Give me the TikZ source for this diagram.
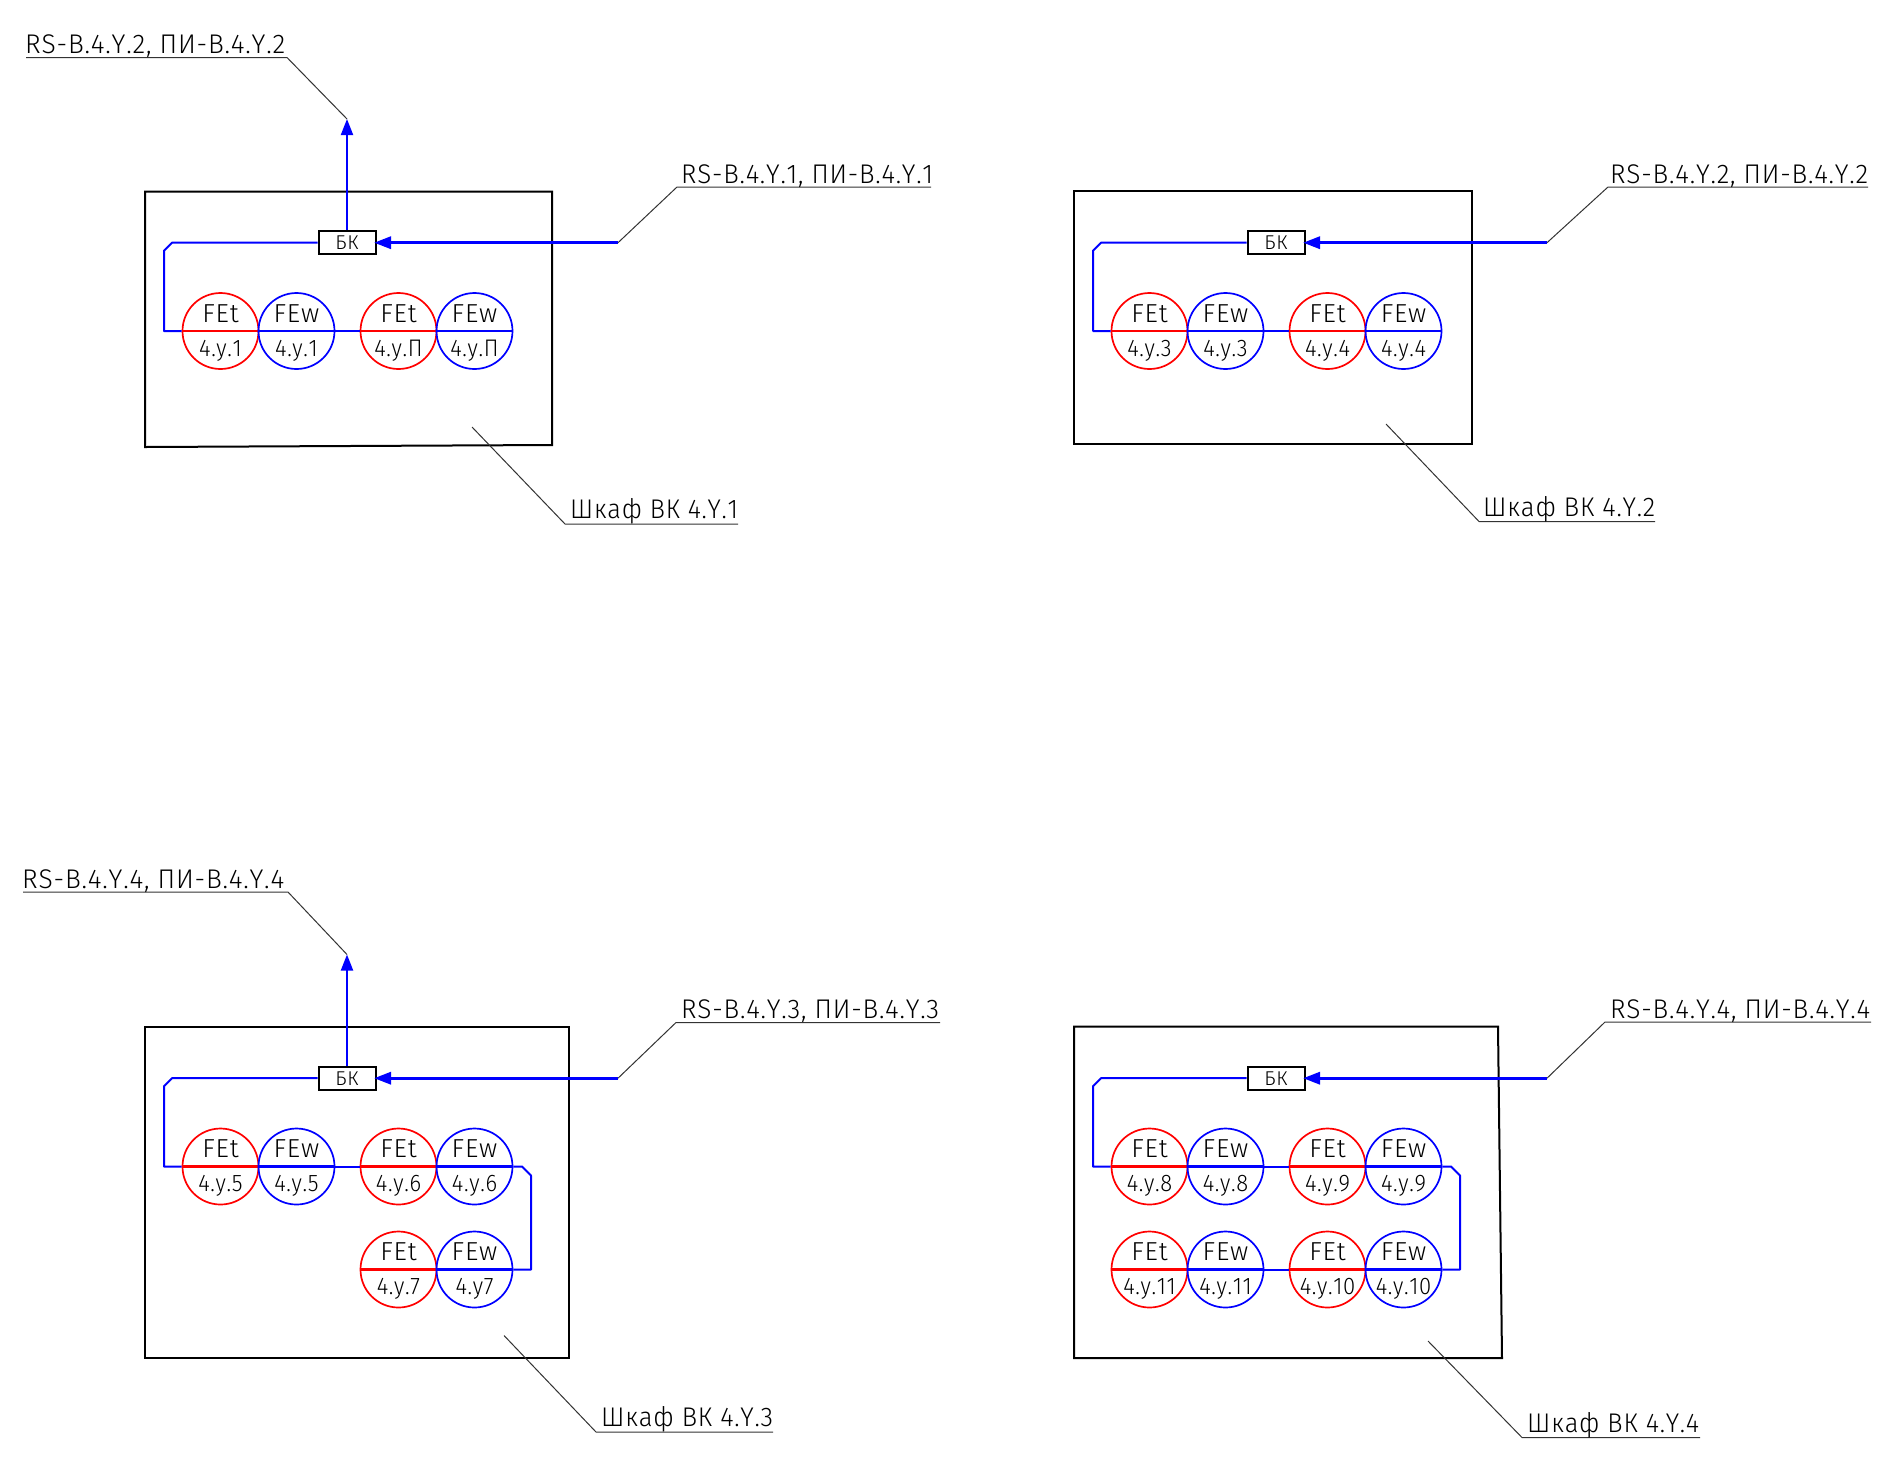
\documentclass[tikz,border=0pt]{standalone}
\usepackage{fontspec}
\usepackage{graphicx}
\setmainfont[Kerning=Off,LetterSpace=3]{Fira Sans Light}
\usetikzlibrary{arrows.meta}
\definecolor{cadred}{RGB}{255,0,0}
\definecolor{cadblue}{RGB}{0,0,255}
\newcommand\fitw[2]{\resizebox{#1pt}{\height}{#2}}
\tikzset{
  frame/.style={draw=black,line width=2pt,line join=miter},
  meter/.style={circle,minimum size=76pt,inner sep=0pt,line width=1.7pt,fill=none},
  midline/.style={line width=2.2pt},
  bus/.style={draw=cadblue,line width=2pt,line join=round},
  feed/.style={draw=cadblue,line width=3.2pt,shorten >=-2.5pt,-{Triangle[length=17pt,width=12pt]}},
  uparrow/.style={draw=cadblue,line width=2pt,-{Triangle[length=16pt,width=12pt]}},
  bk/.style={draw=black,line width=2pt,fill=white,minimum width=57pt,minimum height=23pt,inner sep=0pt,font=\fontsize{20}{20}\selectfont},
  leader/.style={draw=black!80,line width=1pt},
  tag/.style={inner sep=0pt,anchor=base west,font=\fontsize{27}{27}\selectfont},
  mtop/.style={inner sep=0pt,font=\fontsize{26}{26}\selectfont},
  mbot/.style={inner sep=0pt,font=\fontsize{24}{24}\selectfont},
}
% name, x, y, colour, top text, bottom text
\newcommand\meterpt[6]{%
  \node[meter,draw=#4] (#1) at (#2,#3) {};
  \draw[#4,midline] (#1.west) -- (#1.east);
  \node[mtop,anchor=base] (#1top) at (#2,#3-9) {\resizebox{!}{\height}{#5}};
  \node[mbot,anchor=base] (#1bot) at (#2,#3+25) {\scalebox{0.92}[1]{#6}};
}
% prefix, x of red meter, y, label
\newcommand\pairpt[4]{%
  \meterpt{#1t}{#2}{#3}{cadred}{FEt}{#4}
  \meterpt{#1w}{#2+76}{#3}{cadblue}{FEw}{#4}
}
% prefix, label a, label b: the common top row and feed
\newcommand\toprow[3]{%
  \node[bk] (#1bk) at (347,242.7) {БК};
  \pairpt{#1a}{220.5}{331}{#2}
  \pairpt{#1b}{398.5}{331}{#3}
  \draw[bus] (#1bk.west) -- (172,242.7) -- (164,250.7) -- (164,331) -- (#1at.west);
  \draw[bus] (#1aw.east) -- (#1bt.west);
}
% name, first pt, knee pt, end pt, text, text x, width, baseline
\newcommand\callout[8]{%
  \coordinate (#1s) at #2;
  \coordinate (#1k) at #3;
  \coordinate (#1e) at #4;
  \draw[leader] (#1s) -- (#1k) -- (#1e);
  \node[tag] (#1l) at (#6,#8) {\fitw{#7}{#5}};
}
\begin{document}
\begin{tikzpicture}[x=1pt,y=-1pt]
\useasboundingbox (0,0) rectangle (1877,1460);
\fill[white] (0,0) rectangle (1877,1460);
% cabinets
\coordinate (f1a) at (145,191.5); \coordinate (f1b) at (552,191.5); \coordinate (f1c) at (552,445); \coordinate (f1d) at (145,447);
\draw[frame] (f1a) -- (f1b) -- (f1c) -- (f1d) -- cycle;
\coordinate (f2a) at (1074,191); \coordinate (f2b) at (1472,191); \coordinate (f2c) at (1472,444); \coordinate (f2d) at (1074,444);
\draw[frame] (f2a) -- (f2b) -- (f2c) -- (f2d) -- cycle;
\coordinate (f3a) at (145,1026.5); \coordinate (f3b) at (568.5,1026.5); \coordinate (f3c) at (568.5,1358); \coordinate (f3d) at (145,1358);
\draw[frame] (f3a) -- (f3b) -- (f3c) -- (f3d) -- cycle;
\coordinate (f4a) at (1074,1026.5); \coordinate (f4b) at (1498,1026.5); \coordinate (f4c) at (1502,1358); \coordinate (f4d) at (1074,1358);
\draw[frame] (f4a) -- (f4b) -- (f4c) -- (f4d) -- cycle;
% panel 1
\toprow{p}{4.y.1}{4.y.П}
\coordinate (pin) at (618,242.7);
\draw[feed] (pin) -- (pbk.east);
\coordinate (pup) at (347,119);
\draw[uparrow] (pbk.north) -- (pup);
\callout{u1}{(pup)}{(287,57.5)}{(26,57.5)}{RS-B.4.Y.2, ПИ-B.4.Y.2}{25}{260}{53.5}
\callout{r1}{(pin)}{(677,187)}{(931,187)}{RS-B.4.Y.1, ПИ-B.4.Y.1}{681}{252}{183}
\callout{c1}{(472,427)}{(565,524)}{(738,524)}{Шкаф ВК 4.Y.1}{570}{168}{518}
% panel 2
\begin{scope}[shift={(929,0)}]
\toprow{q}{4.y.3}{4.y.4}
\coordinate (qin) at (618,242.7);
\draw[feed] (qin) -- (qbk.east);
\end{scope}
\callout{r2}{(qin)}{(1608,187)}{(1868,187)}{RS-B.4.Y.2, ПИ-B.4.Y.2}{1610}{258}{183}
\callout{c2}{(1386,424)}{(1479,521.5)}{(1655,521.5)}{Шкаф ВК 4.Y.2}{1483}{172}{516}
% panel 3
\begin{scope}[shift={(0,835.5)}]
\toprow{s}{4.y.5}{4.y.6}
\pairpt{sc}{398.5}{434}{}
\node[mbot,anchor=base] (sclabt) at (398.5,459) {\scalebox{0.92}[1]{4.y.7}};
\node[mbot,anchor=base] (sclabw) at (474.5,459) {\scalebox{0.92}[1]{4.y7}};
\coordinate (sin) at (618,242.7);
\draw[feed] (sin) -- (sbk.east);
\coordinate (sup) at (347,119);
\draw[uparrow] (sbk.north) -- (sup);
\draw[bus] (sbw.east) -- (522,331) -- (531,340) -- (531,434) -- (scw.east);
\end{scope}
\callout{u3}{(sup)}{(288,892)}{(23,892)}{RS-B.4.Y.4, ПИ-B.4.Y.4}{22}{262}{888}
\callout{r3}{(sin)}{(676,1022.5)}{(940,1022.5)}{RS-B.4.Y.3, ПИ-B.4.Y.3}{681}{258}{1018.5}
\callout{c3}{(504,1335.5)}{(596,1432)}{(773,1432)}{Шкаф ВК 4.Y.3}{601}{172}{1426}
% panel 4
\begin{scope}[shift={(929,835.5)}]
\toprow{v}{4.y.8}{4.y.9}
\pairpt{vc}{220.5}{434}{4.y.11}
\pairpt{vd}{398.5}{434}{4.y.10}
\coordinate (vin) at (618,242.7);
\draw[feed] (vin) -- (vbk.east);
\draw[bus] (vbw.east) -- (522,331) -- (531,340) -- (531,434) -- (vdw.east);
\draw[bus] (vcw.east) -- (vdt.west);
\end{scope}
\callout{r4}{(vin)}{(1605,1022)}{(1871,1022)}{RS-B.4.Y.4, ПИ-B.4.Y.4}{1610}{260}{1018}
\callout{c4}{(1428,1341)}{(1522,1437.5)}{(1700,1437.5)}{Шкаф ВК 4.Y.4}{1527}{172}{1432}
\end{tikzpicture}
\end{document}
